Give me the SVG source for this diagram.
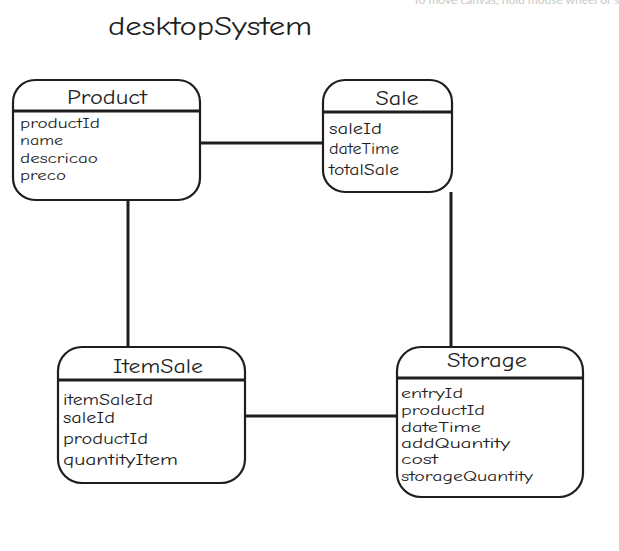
<svg xmlns="http://www.w3.org/2000/svg" width="619" height="551" viewBox="0 0 619 551">
<style>
.box{fill:#fff;stroke:#1e1e1e;stroke-width:2.2}
.div{stroke:#1e1e1e;stroke-width:3.2}
.conn{stroke:#1e1e1e;stroke-width:3;fill:none}
.t{font-family:"Comic Neue","Liberation Sans",sans-serif;fill:#1e1e1e}
.title{font-size:20px;text-anchor:middle}
.attr{font-size:15px}
.sm{font-size:13.5px}
</style>
<rect width="619" height="551" fill="#fff"/>
<text x="413" y="4" class="t" style="font-family:Lato,sans-serif;font-size:12px;fill:#c8c8c8">To move canvas, hold mouse wheel or s</text>
<text x="108" y="35" class="t" font-size="26" textLength="204" lengthAdjust="spacingAndGlyphs">desktopSystem</text>
<g id="connectors">
<line class="conn" x1="200" y1="143" x2="323" y2="143"/>
<line class="conn" x1="128" y1="200" x2="128" y2="348"/>
<line class="conn" x1="451" y1="192" x2="451" y2="348"/>
<line class="conn" x1="245" y1="416" x2="398" y2="416"/>
</g>
<g id="Product">
<rect class="box" x="13" y="80" width="187" height="120" rx="22"/>
<line class="div" x1="13" y1="111" x2="200" y2="111"/>
<text class="t title" x="107" y="104" textLength="80" lengthAdjust="spacingAndGlyphs">Product</text>
<text class="t attr sm" x="20" y="128" textLength="80" lengthAdjust="spacingAndGlyphs">productId</text>
<text class="t attr sm" x="20" y="145" textLength="43" lengthAdjust="spacingAndGlyphs">name</text>
<text class="t attr sm" x="20" y="163" textLength="78" lengthAdjust="spacingAndGlyphs">descricao</text>
<text class="t attr sm" x="20" y="180" textLength="46" lengthAdjust="spacingAndGlyphs">preco</text>
</g>
<g id="Sale">
<rect class="box" x="323" y="80" width="129" height="112" rx="22"/>
<line class="div" x1="323" y1="112" x2="452" y2="112"/>
<text class="t title" x="397" y="105" textLength="43" lengthAdjust="spacingAndGlyphs">Sale</text>
<text class="t attr" x="329" y="134" textLength="53" lengthAdjust="spacingAndGlyphs">saleId</text>
<text class="t attr" x="329" y="154" textLength="70" lengthAdjust="spacingAndGlyphs">dateTime</text>
<text class="t attr" x="329" y="175" textLength="70" lengthAdjust="spacingAndGlyphs">totalSale</text>
</g>
<g id="ItemSale">
<rect class="box" x="58" y="347" width="187" height="136" rx="24"/>
<line class="div" x1="58" y1="380" x2="245" y2="380"/>
<text class="t title" x="158" y="373" textLength="90" lengthAdjust="spacingAndGlyphs">ItemSale</text>
<text class="t attr" x="63" y="405" textLength="90" lengthAdjust="spacingAndGlyphs">itemSaleId</text>
<text class="t attr" x="63" y="423" textLength="52" lengthAdjust="spacingAndGlyphs">saleId</text>
<text class="t attr" x="63" y="444" textLength="85" lengthAdjust="spacingAndGlyphs">productId</text>
<text class="t attr" x="63" y="465" textLength="115" lengthAdjust="spacingAndGlyphs">quantityItem</text>
</g>
<g id="Storage">
<rect class="box" x="397" y="347" width="186" height="150" rx="24"/>
<line class="div" x1="397" y1="378" x2="583" y2="378"/>
<text class="t title" x="487" y="367" textLength="80" lengthAdjust="spacingAndGlyphs">Storage</text>
<text class="t attr sm" x="401" y="398" textLength="62" lengthAdjust="spacingAndGlyphs">entryId</text>
<text class="t attr sm" x="401" y="415" textLength="84" lengthAdjust="spacingAndGlyphs">productId</text>
<text class="t attr sm" x="401" y="432" textLength="80" lengthAdjust="spacingAndGlyphs">dateTime</text>
<text class="t attr sm" x="401" y="448" textLength="109" lengthAdjust="spacingAndGlyphs">addQuantity</text>
<text class="t attr sm" x="401" y="464" textLength="37" lengthAdjust="spacingAndGlyphs">cost</text>
<text class="t attr sm" x="401" y="481" textLength="132" lengthAdjust="spacingAndGlyphs">storageQuantity</text>
</g>
</svg>
